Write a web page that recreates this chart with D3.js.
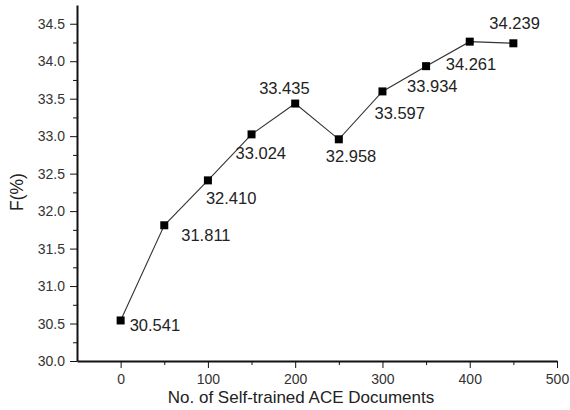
<!DOCTYPE html>
<meta charset="utf-8">
<script src="https://d3js.org/d3.v7.min.js"></script>
<style>
body { margin: 0; background: #fff; }
svg { font-family: "Liberation Sans", Arial, sans-serif; }
.axis path, .axis line { stroke: #111; }
.axis text { fill: #333; font-size: 14px; }
.ptLabel { fill: #222; font-size: 16.5px; }
</style>
<body></body>
<script>

// data
var docs = [0, 50, 100, 150, 200, 250, 300, 350, 400, 450];
var fScore = [30.541, 31.811, 32.410, 33.024, 33.435, 32.958, 33.597, 33.934, 34.261, 34.239];
var xTicks = [0, 100, 200, 300, 400, 500];
var yTicks = [30.0, 30.5, 31.0, 31.5, 32.0, 32.5, 33.0, 33.5, 34.0, 34.5];
// where each value label sits relative to its point (px)
var labelDx = [9, 17, -2, -16, -36, -13, -8, -19, -24, -24];
var labelDy = [11, 16, 24, 25, -10, 23, 28, 26, 28, -14];

var margin = {top: 5, right: 13, bottom: 49, left: 77};
var width = 570 - margin.left - margin.right,
    height = 410 - margin.top - margin.bottom;

var svg = d3.select('body').append('svg')
    .attr('width', 570)
    .attr('height', 410)
  .append('g')
    .attr('transform', 'translate(' + margin.left + ',' + margin.top + ')');

var x = d3.scaleLinear().domain([-50, 500]).range([0, width]);
var y = d3.scaleLinear().domain([30, 34.75]).range([height, 0]);

// minor ticks first so the major ones draw on top
svg.append('g')
    .attr('class', 'axis')
    .attr('transform', 'translate(0,' + height + ')')
    .call(d3.axisBottom(x).tickValues(d3.range(50, 500, 100)).tickSize(4).tickFormat(''))
    .select('.domain').remove();

svg.append('g')
    .attr('class', 'axis')
    .call(d3.axisLeft(y).tickValues(d3.range(30.25, 34.75, 0.5)).tickSize(4).tickFormat(''))
    .select('.domain').remove();

var xAxisG = svg.append('g')
    .attr('class', 'axis')
    .attr('transform', 'translate(0,' + height + ')')
    .call(d3.axisBottom(x).tickValues(xTicks).tickSize(7).tickSizeOuter(0).tickPadding(6));

var yAxisG = svg.append('g')
    .attr('class', 'axis')
    .call(d3.axisLeft(y).tickValues(yTicks).tickFormat(d3.format('.1f')).tickSize(7).tickSizeOuter(0).tickPadding(5));

svg.selectAll('.domain').attr('stroke-width', 2);

// axis titles
svg.append('text')
    .attr('x', width / 2 - 16)
    .attr('y', height + 42)
    .attr('text-anchor', 'middle')
    .style('font-size', '17px')
    .style('fill', '#222')
    .text('No. of Self-trained ACE Documents');

svg.append('text')
    .attr('transform', 'translate(' + (-54) + ',' + (height / 2 + 9) + ') rotate(-90)')
    .attr('text-anchor', 'middle')
    .style('font-size', '17.5px')
    .style('fill', '#222')
    .text('F(%)');

var pts = docs.map(function(d, i) { return {x: d, y: fScore[i], i: i}; });

var line = d3.line()
    .x(function(d) { return x(d.x); })
    .y(function(d) { return y(d.y); });

svg.append('path')
    .datum(pts)
    .attr('d', line)
    .attr('fill', 'none')
    .attr('stroke', '#333')
    .attr('stroke-width', 1.1);

var sz = 8;
svg.selectAll('.marker')
    .data(pts)
    .enter().append('rect')
    .attr('class', 'marker')
    .attr('x', function(d) { return x(d.x) - sz / 2; })
    .attr('y', function(d) { return y(d.y) - sz / 2; })
    .attr('width', sz)
    .attr('height', sz)
    .attr('fill', '#000');

svg.selectAll('.ptLabel')
    .data(pts)
    .enter().append('text')
    .attr('class', 'ptLabel')
    .attr('x', function(d) { return x(d.x) + labelDx[d.i]; })
    .attr('y', function(d) { return y(d.y) + labelDy[d.i]; })
    .text(function(d) { return d3.format('.3f')(d.y); });

</script>
